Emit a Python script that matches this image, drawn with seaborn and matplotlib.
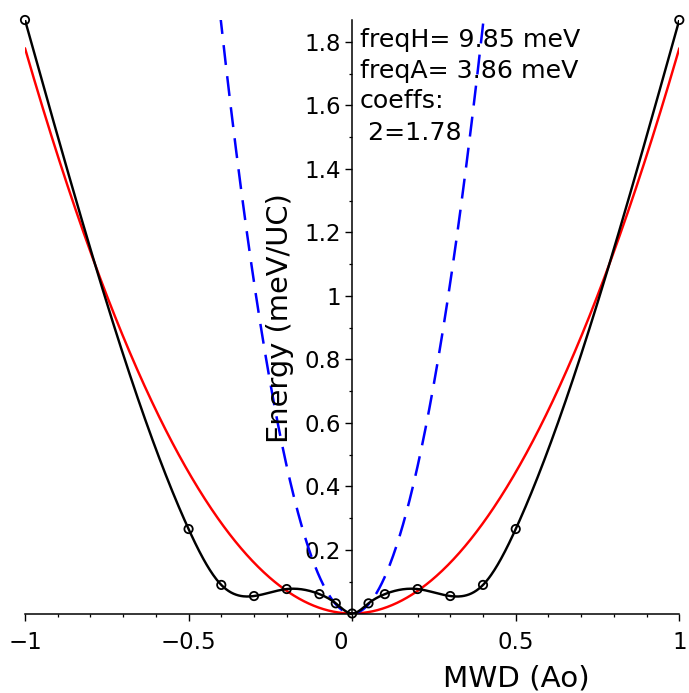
import numpy as np
import pandas as pd
import matplotlib
matplotlib.use("Agg")
import matplotlib.pyplot as plt
import seaborn as sns
from matplotlib.ticker import MultipleLocator, FixedLocator

# ---- data ----
mwd = [-1.0, -0.5, -0.4, -0.3, -0.2, -0.1, -0.05, 0.0, 0.05, 0.1, 0.2, 0.3, 0.4, 0.5, 1.0]
energy = [1.869, 0.266, 0.090, 0.055, 0.077, 0.061, 0.032, 0.0,
          0.032, 0.061, 0.077, 0.055, 0.090, 0.266, 1.869]
freqH = 9.85   # meV
freqA = 3.86   # meV
coeff2 = 1.78  # fitted x^2 coefficient (anharmonic fit)
info_lines = ["freqH= 9.85 meV", "freqA= 3.86 meV", "coeffs:", " 2=1.78"]
x_ticks = [-1, -0.5, 0, 0.5, 1]
x_ticklabels = ["\u22121", "\u22120.5", "", "0.5", "1"]
zero_label = "0"
y_ticks = [0.2, 0.4, 0.6, 0.8, 1.0, 1.2, 1.4, 1.6, 1.8]
y_ticklabels = ["0.2", "0.4", "0.6", "0.8", "1", "1.2", "1.4", "1.6", "1.8"]


def natural_spline(xk, yk, xs):
    xk = np.asarray(xk, float); yk = np.asarray(yk, float)
    n = len(xk); h = np.diff(xk)
    A = np.zeros((n, n)); r = np.zeros(n)
    A[0, 0] = 1; A[-1, -1] = 1
    for i in range(1, n - 1):
        A[i, i - 1] = h[i - 1]; A[i, i] = 2 * (h[i - 1] + h[i]); A[i, i + 1] = h[i]
        r[i] = 3 * ((yk[i + 1] - yk[i]) / h[i] - (yk[i] - yk[i - 1]) / h[i - 1])
    c = np.linalg.solve(A, r)
    b = (yk[1:] - yk[:-1]) / h - h * (2 * c[:-1] + c[1:]) / 3
    d = (c[1:] - c[:-1]) / (3 * h)
    idx = np.clip(np.searchsorted(xk, xs) - 1, 0, n - 2)
    t = xs - xk[idx]
    return yk[idx] + b[idx] * t + c[idx] * t ** 2 + d[idx] * t ** 3


sns.set_style("white")
plt.rcParams['font.family'] = ['DejaVu Sans']
plt.rcParams['text.color'] = 'black'

W, H = 689, 693
fig = plt.figure(figsize=(W / 100, H / 100), dpi=100)
ax_left, ax_right = 25 / W, 679.3 / W
ax_bottom, ax_top = (H - 613.5) / H, (H - 20) / H
ax = fig.add_axes([ax_left, ax_bottom, ax_right - ax_left, ax_top - ax_bottom])

YMAX = 1.869
xs = np.linspace(-1, 1, 801)
df_black = pd.DataFrame({"x": xs, "y": natural_spline(mwd, energy, xs)})
df_red = pd.DataFrame({"x": xs, "y": coeff2 * xs ** 2})
coeffH = coeff2 * (freqH / freqA) ** 2
xb_lim = np.sqrt(YMAX / coeffH) * 1.005
xb = np.linspace(-xb_lim, xb_lim, 401)
df_blue = pd.DataFrame({"x": xb, "y": coeffH * xb ** 2})
df_pts = pd.DataFrame({"x": mwd, "y": energy})

sns.lineplot(data=df_red, x="x", y="y", ax=ax, color="#ff0000", lw=1.75, sort=False)
sns.lineplot(data=df_blue, x="x", y="y", ax=ax, color="#0000ff", lw=1.8, sort=False,
             linestyle=(0, (8, 4.5)))
sns.lineplot(data=df_black, x="x", y="y", ax=ax, color="black", lw=1.75, sort=False)
sns.scatterplot(data=df_pts, x="x", y="y", ax=ax, marker="o", s=36,
                facecolor="none", edgecolor="black", linewidth=1.3, zorder=5, clip_on=False)

ax.set_xlim(-1, 1)
ax.set_ylim(0, YMAX)
ax.set_xlabel(""); ax.set_ylabel("")
for s in ["top", "right"]:
    ax.spines[s].set_visible(False)
ax.spines["left"].set_position(("data", 0))
ax.spines["bottom"].set_position(("data", 0))
for s in ["left", "bottom"]:
    ax.spines[s].set_color("black")
    ax.spines[s].set_linewidth(1.1)

ax.xaxis.set_major_locator(FixedLocator(x_ticks))
ax.set_xticklabels(x_ticklabels)
ax.xaxis.set_minor_locator(MultipleLocator(0.1))
ax.yaxis.set_major_locator(FixedLocator(y_ticks))
ax.set_yticklabels(y_ticklabels)
ax.yaxis.set_minor_locator(MultipleLocator(0.1))
ax.tick_params(axis="both", which="both", bottom=True, left=True, top=False, right=False)
ax.tick_params(axis="both", which="major", direction="out", length=5, width=1.0,
               color="black", labelsize=16.5, labelcolor="black")
ax.tick_params(axis="both", which="minor", direction="out", length=2.5, width=0.9,
               color="black")
ax.tick_params(axis="x", which="major", pad=7.5)
ax.tick_params(axis="y", which="major", pad=3)

# "0" label sits left of the vertical axis, as in the reference
ax.annotate(zero_label, xy=(0, 0), xycoords="data", xytext=(-8.3, -12.5),
            textcoords="offset points", ha="center", va="top", fontsize=16.5,
            color="black", annotation_clip=False)

# annotation text
baselines = [46.7, 77.7, 108.3, 140.0]
for txt, by in zip(info_lines, baselines):
    fig.text(360 / W, 1 - by / H, txt, fontsize=18.2, ha="left", va="baseline", color="black")

# axis labels
fig.text(443 / W, 1 - 686.7 / H, "MWD (Ao)", fontsize=21.2, ha="left", va="baseline",
         color="black")
fig.text(288.5 / W, 1 - 318 / H, "Energy (meV/UC)", fontsize=20.8, rotation=90,
         ha="center", va="baseline", rotation_mode="anchor", color="black")

fig.savefig("out.png", dpi=100)
